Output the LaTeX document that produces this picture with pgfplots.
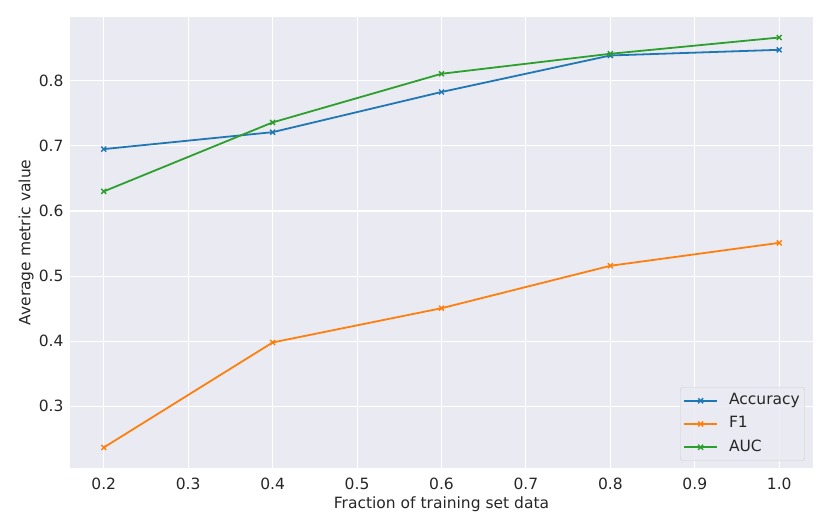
\documentclass[border=0pt]{standalone}
\usepackage{pgfplots}
\pgfplotsset{compat=1.18}
\usepackage{fontspec}
\setmainfont{DejaVu Sans}
\definecolor{bg}{HTML}{EAEAF2}
\definecolor{tabblue}{HTML}{1F77B4}
\definecolor{taborange}{HTML}{FF7F0E}
\definecolor{tabgreen}{HTML}{2CA02C}
\definecolor{txt}{HTML}{262626}
\begin{document}
\begin{tikzpicture}
\path[use as bounding box] (-70bp,-61bp) rectangle (760bp,468bp);
\begin{axis}[
 at={(0,0)}, anchor=south west,
 scale only axis, width=743bp, height=451bp,
 xmin=0.16, xmax=1.04, ymin=0.2052, ymax=0.8979,
 axis background/.style={fill=bg},
 axis line style={draw=none},
 major tick length=0pt,
 grid=major, grid style={white, line width=1.1bp},
 xtick={0.2,0.3,0.4,0.5,0.6,0.7,0.8,0.9,1.0},
 ytick={0.3,0.4,0.5,0.6,0.7,0.8},
 /pgf/number format/.cd, fixed, fixed zerofill, precision=1, assume math mode=true,
 /pgfplots/.cd,
 ticklabel style={font=\fontsize{15.5bp}{18bp}\selectfont, text=txt},
 xticklabel style={anchor=base, yshift=-21bp},
 yticklabel style={anchor=east, xshift=-3bp},
 xlabel={Fraction of training set data},
 ylabel={Average metric value},
 label style={font=\fontsize{15.5bp}{18bp}\selectfont, text=txt},
 xlabel style={at={(axis description cs:0.5,0)}, anchor=base, yshift=-40bp},
 ylabel style={at={(axis description cs:0,0.5)}, anchor=south, yshift=33bp},
 legend style={at={(1,0)}, anchor=south east, xshift=-8bp, yshift=7bp,
   fill=bg, fill opacity=0.8, text opacity=1, draw=black!20, rounded corners=3bp,
   font=\fontsize{15.5bp}{18bp}\selectfont, text=txt, inner xsep=3bp, inner ysep=2bp,
   row sep=0pt, column sep=9bp,
   nodes={inner ysep=4bp, text height=11.5bp, text depth=3.7bp}},
 legend cell align=left,
 legend image code/.code={\draw[#1, mark repeat=2, mark phase=2] plot coordinates {(0bp,0bp)(16.5bp,0bp)(33bp,0bp)};},
 every axis plot/.append style={line width=1.8bp, mark=x, mark size=3.5bp, mark options={line width=1.4bp}},
]
\addplot[tabblue] coordinates {(0.2,0.695)(0.4,0.721)(0.6,0.7827)(0.8,0.8388)(1.0,0.8475)};
\addlegendentry{Accuracy}
\addplot[taborange] coordinates {(0.2,0.2367)(0.4,0.398)(0.6,0.4506)(0.8,0.5158)(1.0,0.551)};
\addlegendentry{F1}
\addplot[tabgreen] coordinates {(0.2,0.630)(0.4,0.736)(0.6,0.8107)(0.8,0.8414)(1.0,0.8664)};
\addlegendentry{AUC}
\end{axis}
\end{tikzpicture}
\end{document}
